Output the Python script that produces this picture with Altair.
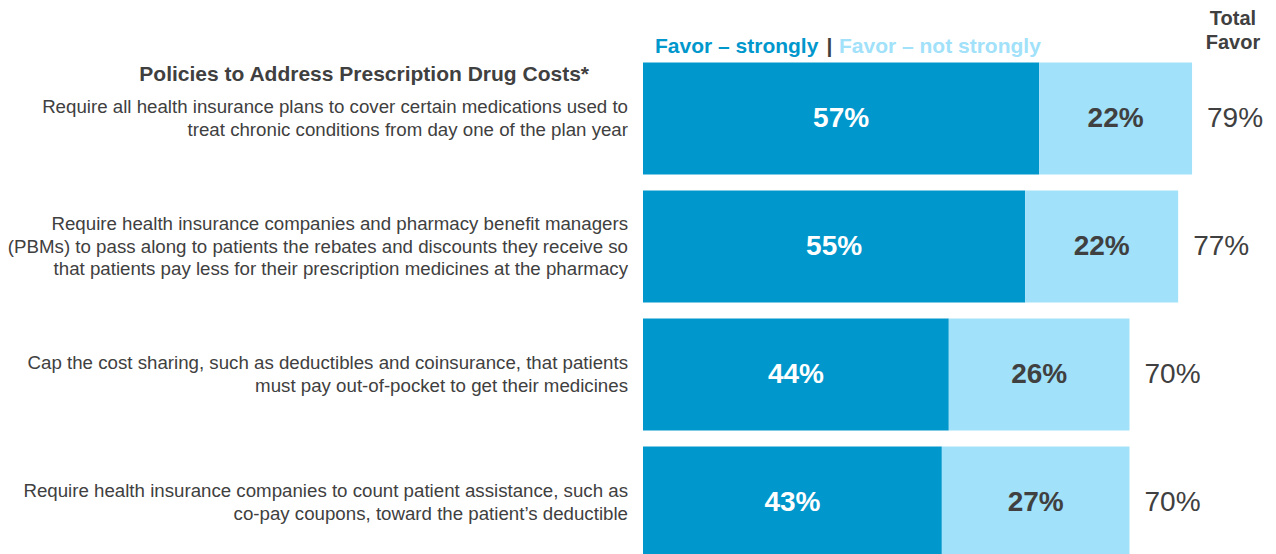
import altair as alt
import pandas as pd

# ---------------- data ----------------
policies = [
    "Require all health insurance plans to cover certain medications used to\ntreat chronic conditions from day one of the plan year",
    "Require health insurance companies and pharmacy benefit managers\n(PBMs) to pass along to patients the rebates and discounts they receive so\nthat patients pay less for their prescription medicines at the pharmacy",
    "Cap the cost sharing, such as deductibles and coinsurance, that patients\nmust pay out-of-pocket to get their medicines",
    "Require health insurance companies to count patient assistance, such as\nco-pay coupons, toward the patient\u2019s deductible",
]
favor_strongly = [57, 55, 44, 43]
favor_not_strongly = [22, 22, 26, 27]
total_favor = [79, 77, 70, 70]
segments = ["Favor \u2013 strongly", "Favor \u2013 not strongly"]

header = "Policies to Address Prescription Drug Costs*"
total_header = "Total\nFavor"

DARK = "#0097CC"
LIGHT = "#A1E1FA"
GREY = "#404040"
FONT = "Liberation Sans"

ids = [f"p{i}" for i in range(len(policies))]

rows = []
for pid, s, n in zip(ids, favor_strongly, favor_not_strongly):
    rows.append(dict(pid=pid, seg=segments[0], start=0, end=s, mid=s / 2, val=s, lab=f"{s}%"))
    rows.append(dict(pid=pid, seg=segments[1], start=s, end=s + n, mid=s + n / 2, val=n, lab=f"{n}%"))
seg_df = pd.DataFrame(rows)

tot_df = pd.DataFrame(dict(pid=ids, total=total_favor, lab=[f"{t}%" for t in total_favor], text=policies))

# ---------------- scales ----------------
W, H = 1260, 546
xs = alt.Scale(domain=[0, 100], range=[635, 1330])
ys = alt.Scale(domain=ids, range=[46.5, 558.5], paddingInner=0.125, paddingOuter=0.0625)

Y = alt.Y("pid:N", scale=ys, axis=None, sort=ids)

bars = alt.Chart(seg_df).mark_bar().encode(
    x=alt.X("start:Q", scale=xs, axis=None),
    x2="end:Q",
    y=Y,
    color=alt.Color("seg:N", scale=alt.Scale(domain=segments, range=[DARK, LIGHT]), legend=None),
)

seg_text_strong = alt.Chart(seg_df).transform_filter(
    alt.datum.seg == segments[0]
).mark_text(font=FONT, fontSize=28, fontWeight="bold", color="white", baseline="middle").encode(
    x=alt.X("mid:Q", scale=xs), y=Y, text="lab:N"
)
seg_text_not = alt.Chart(seg_df).transform_filter(
    alt.datum.seg == segments[1]
).mark_text(font=FONT, fontSize=28, fontWeight="bold", color=GREY, baseline="middle").encode(
    x=alt.X("mid:Q", scale=xs), y=Y, text="lab:N"
)

tot_text = alt.Chart(tot_df).mark_text(
    font=FONT, fontSize=28, color=GREY, align="left", baseline="middle", dx=15
).encode(x=alt.X("total:Q", scale=xs), y=Y, text="lab:N")

LH = 22.5
def cat_layer(nlines):
    return alt.Chart(tot_df).transform_calculate(
        nl="length(split(datum.text, '\\n'))"
    ).transform_filter(
        alt.datum.nl == nlines
    ).mark_text(
        font=FONT, fontSize=18.7, color=GREY, align="right", baseline="middle",
        lineBreak="\n", lineHeight=LH, dy=-(nlines - 1) * LH / 2
    ).encode(x=alt.value(620), y=Y, text="text:N")

cat2 = cat_layer(2)
cat3 = cat_layer(3)

hdr = alt.Chart(pd.DataFrame({"t": [header]})).mark_text(
    font=FONT, fontSize=21, fontWeight="bold", color=GREY, align="right", baseline="middle"
).encode(x=alt.value(581), y=alt.value(67), text="t:N")

tot_hdr = alt.Chart(pd.DataFrame({"t": [total_header]})).mark_text(
    font=FONT, fontSize=20, fontWeight="bold", color=GREY, align="center", baseline="middle",
    lineBreak="\n", lineHeight=24
).encode(x=alt.value(1225), y=alt.value(11), text="t:N")

leg1 = alt.Chart(pd.DataFrame({"t": [segments[0]]})).mark_text(
    font=FONT, fontSize=21, fontWeight="bold", color=DARK, align="left", baseline="middle"
).encode(x=alt.value(647), y=alt.value(39), text="t:N")
leg_bar = alt.Chart(pd.DataFrame({"t": ["|"]})).mark_text(
    font=FONT, fontSize=21, fontWeight="bold", color=GREY, align="center", baseline="middle"
).encode(x=alt.value(821.5), y=alt.value(39), text="t:N")
leg2 = alt.Chart(pd.DataFrame({"t": [segments[1]]})).mark_text(
    font=FONT, fontSize=21, fontWeight="bold", color=LIGHT, align="left", baseline="middle"
).encode(x=alt.value(831), y=alt.value(39), text="t:N")

chart = alt.layer(
    bars, seg_text_strong, seg_text_not, tot_text, cat2, cat3, hdr, tot_hdr, leg1, leg_bar, leg2
).properties(
    width=W, height=H, padding=0, background="white",
    autosize=alt.AutoSizeParams(type="none"),
).configure_view(strokeWidth=0, stroke="transparent")

chart.save("out.html", embed_options={"renderer": "svg", "actions": False})
